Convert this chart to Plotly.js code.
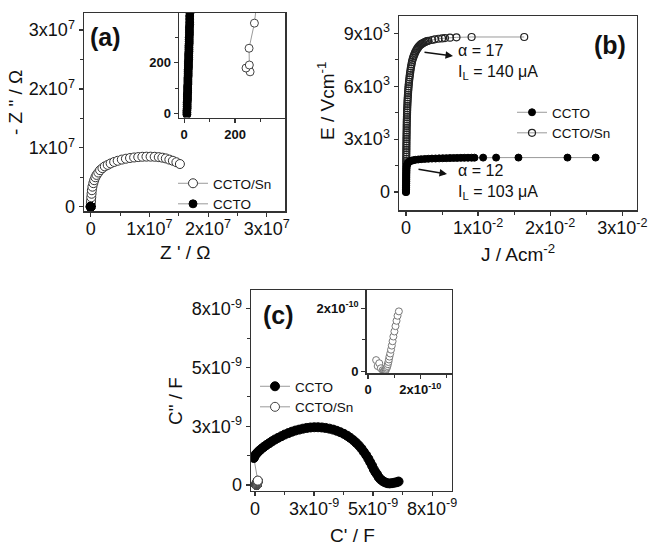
<!DOCTYPE html>
<html>
<head>
<meta charset="utf-8">
<script src="https://cdn.plot.ly/plotly-3.0.1.min.js"></script>
<style>html,body{margin:0;padding:0;background:#fff;}#chart{width:649px;height:545px;}</style>
</head>
<body>
<div id="chart"></div>
<script>
// ---------------- Panel (a): impedance Nyquist plot (Ohm) ----------------
const aCctoZre = [11,11,11,12,12,12,12,13,13,13,13,14,14,14,14,15,15,15,15,16,16,16,16,17,17,17,17,18,18,18,18,19,19,19,19,20,20,20,20,21,21,21,21,22,22,22,22,23,23];
const aCctoZim = [-4,4,12,20,28,36,44,52,60,68,76,84,92,100,108,116,124,132,140,148,156,164,172,180,188,196,204,212,220,228,236,244,252,260,268,276,284,292,300,310,320,330,340,350,360,372,384,396,410];
const aSnZre = [259,243,256,255,276,3e4,6e4,1e5,1.5e5,2e5,3e5,4.5e5,6e5,8e5,1e6,1.3e6,1.6e6,2e6,2.4e6,2.9e6,3.4e6,4e6,4.6e6,5.3e6,6e6,6.7e6,7.4e6,8.1e6,8.8e6,9.5e6,1.02e7,1.09e7,1.16e7,1.22e7,1.28e7,1.34e7,1.40e7,1.46e7,1.52e7];
const aSnZim = [164,179,191,257,356,5e5,1e6,1.6e6,2.2e6,2.8e6,3.4e6,4e6,4.5e6,5e6,5.4e6,5.8e6,6.2e6,6.55e6,6.85e6,7.1e6,7.35e6,7.6e6,7.8e6,8e6,8.15e6,8.27e6,8.36e6,8.43e6,8.48e6,8.5e6,8.5e6,8.48e6,8.42e6,8.33e6,8.2e6,8.0e6,7.8e6,7.55e6,7.25e6];
const aTicks = [0,1e7,2e7,3e7];
const aTickText = ['0','1x10<sup>7</sup>','2x10<sup>7</sup>','3x10<sup>7</sup>'];
const aInsetTicks = [0,200];
const aInsetTickText = ['0','200'];

// ---------------- Panel (b): E–J characteristics ----------------
const bCctoJ = [0,0.00001,0.00001,0.00002,0.00002,0.00003,0.00003,0.00004,0.00004,0.00005,0.00006,0.00007,0.00009,0.00012,0.00018,0.00028,0.0004,0.00055,0.00075,0.001,0.0013,0.0017,0.0021,0.0026,0.0031,0.0036,0.0041,0.0046,0.0051,0.0056,0.0061,0.0066,0.0071,0.0076,0.0081,0.0086,0.0091,0.0095,0.0107,0.0125,0.0156,0.0224,0.0263];
const bCctoE = [0,120,240,360,480,600,720,840,960,1080,1200,1320,1430,1520,1590,1650,1700,1740,1775,1800,1825,1845,1860,1875,1885,1895,1900,1908,1915,1920,1925,1930,1933,1936,1939,1942,1945,1948,1950,1950,1952,1952,1952];
const bSnJ = [0,0.000002,0.000005,0.000007,0.00001,0.000012,0.000015,0.000017,0.00002,0.000022,0.000025,0.000027,0.00003,0.000032,0.000035,0.000037,0.00004,0.000044,0.000047,0.000051,0.000055,0.000058,0.000062,0.000066,0.00007,0.000075,0.00008,0.000085,0.00009,0.000095,0.0001,0.000105,0.00011,0.00012,0.00013,0.00014,0.00015,0.00016,0.00017,0.000185,0.0002,0.000215,0.00023,0.00025,0.00027,0.00029,0.00031,0.000335,0.00036,0.00039,0.00042,0.000455,0.00049,0.00053,0.00057,0.000615,0.00066,0.00071,0.00077,0.00083,0.0009,0.00098,0.00107,0.00116,0.00126,0.00136,0.00146,0.00157,0.00168,0.0018,0.00193,0.00207,0.00222,0.00238,0.00255,0.00272,0.0029,0.0031,0.0036,0.004,0.0045,0.005,0.0054,0.0061,0.007,0.0091,0.0164];
const bSnE = [0,125,250,375,500,625,750,875,1000,1125,1250,1375,1500,1625,1750,1875,2000,2125,2250,2375,2500,2625,2750,2875,3000,3125,3250,3375,3500,3625,3750,3875,4000,4125,4250,4375,4500,4625,4750,4875,5000,5125,5250,5375,5500,5625,5750,5875,6000,6125,6250,6375,6500,6625,6750,6875,7000,7125,7250,7375,7500,7600,7700,7800,7900,7980,8060,8130,8200,8260,8320,8370,8410,8450,8490,8520,8550,8570,8620,8660,8690,8710,8730,8750,8770,8790,8790];
const bXTicks = [0,0.01,0.02,0.03];
const bXTickText = ['0','1x10<sup>-2</sup>','2x10<sup>-2</sup>','3x10<sup>-2</sup>'];
const bYTicks = [0,3000,6000,9000];
const bYTickText = ['0','3x10<sup>3</sup>','6x10<sup>3</sup>','9x10<sup>3</sup>'];

// ---------------- Panel (c): complex capacitance (F) ----------------
const cCctoRe = [0.12e-9,-0.05e-9,-0.02e-9,0.03e-9,0.10e-9,0.18e-9,0.27e-9,0.37e-9,0.48e-9,0.60e-9,0.72e-9,0.85e-9,0.98e-9,1.12e-9,1.26e-9,1.41e-9,1.56e-9,1.71e-9,1.87e-9,2.03e-9,2.19e-9,2.35e-9,2.51e-9,2.67e-9,2.83e-9,2.99e-9,3.15e-9,3.31e-9,3.46e-9,3.61e-9,3.76e-9,3.90e-9,4.03e-9,4.16e-9,4.28e-9,4.40e-9,4.51e-9,4.61e-9,4.71e-9,4.80e-9,4.88e-9,4.96e-9,5.03e-9,5.10e-9,5.17e-9,5.24e-9,5.32e-9,5.41e-9,5.50e-9,5.60e-9,5.70e-9,5.80e-9,5.90e-9,6.00e-9,6.08e-9];
const cCctoIm = [0.18e-9,1.15e-9,1.22e-9,1.30e-9,1.38e-9,1.46e-9,1.54e-9,1.62e-9,1.70e-9,1.78e-9,1.86e-9,1.94e-9,2.01e-9,2.08e-9,2.15e-9,2.21e-9,2.27e-9,2.32e-9,2.36e-9,2.40e-9,2.43e-9,2.45e-9,2.46e-9,2.46e-9,2.45e-9,2.43e-9,2.40e-9,2.36e-9,2.31e-9,2.25e-9,2.18e-9,2.10e-9,2.01e-9,1.91e-9,1.80e-9,1.68e-9,1.55e-9,1.41e-9,1.27e-9,1.12e-9,0.97e-9,0.82e-9,0.67e-9,0.55e-9,0.45e-9,0.33e-9,0.24e-9,0.17e-9,0.12e-9,0.08e-9,0.07e-9,0.08e-9,0.10e-9,0.12e-9,0.15e-9];
const cSnRe = [0.31e-10,0.37e-10,0.43e-10,0.49e-10,0.56e-10,0.60e-10,0.63e-10,0.66e-10,0.68e-10,0.70e-10,0.72e-10,0.74e-10,0.76e-10,0.78e-10,0.80e-10,0.82e-10,0.85e-10,0.88e-10,0.91e-10,0.94e-10,0.97e-10,1.01e-10,1.05e-10,1.09e-10,1.13e-10,1.18e-10];
const cSnIm = [0.35e-10,0.16e-10,0.25e-10,0.09e-10,0.03e-10,0.00,0.01e-10,0.02e-10,0.04e-10,0.07e-10,0.11e-10,0.16e-10,0.22e-10,0.29e-10,0.37e-10,0.46e-10,0.56e-10,0.68e-10,0.81e-10,0.95e-10,1.10e-10,1.26e-10,1.43e-10,1.60e-10,1.76e-10,1.90e-10];
const cTicks = [0,2.5e-9,5e-9,7.5e-9];
const cTickText = ['0','3x10<sup>-9</sup>','5x10<sup>-9</sup>','8x10<sup>-9</sup>'];
const cInsetTicks = [0,2e-10];
const cInsetTickText = ['0','2x10<sup>-10</sup>'];

// ---------------- layout helpers ----------------
const W = 649, H = 545;
const FONT = 'Liberation Sans, Arial, Helvetica, sans-serif';
const px = v => v / W;
const py = v => 1 - v / H;
const dx = (a, b) => [px(a), px(b)];
const dy = (top, bottom) => [py(bottom), py(top)];

function ax(o) {
  return Object.assign({
    showline: true, mirror: true, linecolor: '#333', linewidth: 1.5,
    ticks: 'outside', ticklen: 4, tickwidth: 1.2, tickcolor: '#333',
    showgrid: false, zeroline: false, tickmode: 'array',
    tickfont: {family: FONT, size: 18, color: '#111'},
    fixedrange: true
  }, o);
}
function minor(d) { return {tickmode: 'linear', tick0: 0, dtick: d, ticks: 'outside', ticklen: 3, tickwidth: 1, tickcolor: '#333', showgrid: false}; }
const insetFont = {family: FONT, size: 13, color: '#111', weight: 'bold'};

const openMk = (sz, edge) => ({symbol: 'circle', size: sz, color: '#fff', line: {color: edge, width: 1}});
const fillMk = sz => ({symbol: 'circle', size: sz, color: '#000', line: {color: '#000', width: 1}});
const grayLine = {color: '#9a9a9a', width: 1};

const data = [
  // (a) main
  {x: aSnZre, y: aSnZim, xaxis: 'x', yaxis: 'y', mode: 'lines+markers', name: 'CCTO/Sn', legend: 'legend', legendrank: 1,
   line: grayLine, marker: openMk(9, '#333')},
  {x: aCctoZre, y: aCctoZim, xaxis: 'x', yaxis: 'y', mode: 'lines+markers', name: 'CCTO', legend: 'legend', legendrank: 2,
   line: grayLine, marker: fillMk(8)},
  // (a) inset
  {x: aSnZre, y: aSnZim, xaxis: 'x2', yaxis: 'y2', mode: 'lines+markers', showlegend: false,
   line: grayLine, marker: openMk(8, '#444')},
  {x: aCctoZre, y: aCctoZim, xaxis: 'x2', yaxis: 'y2', mode: 'lines+markers', showlegend: false,
   line: grayLine, marker: fillMk(8)},
  // (b)
  {x: bSnJ, y: bSnE, xaxis: 'x3', yaxis: 'y3', mode: 'lines+markers', name: 'CCTO/Sn', legend: 'legend2', legendrank: 2,
   line: grayLine, marker: {symbol: 'circle-open', size: 7, color: '#222', line: {width: 1.2}}},
  {x: bCctoJ, y: bCctoE, xaxis: 'x3', yaxis: 'y3', mode: 'lines+markers', name: 'CCTO', legend: 'legend2', legendrank: 1,
   line: grayLine, marker: fillMk(7)},
  // (c) main
  {x: cCctoRe, y: cCctoIm, xaxis: 'x4', yaxis: 'y4', mode: 'lines+markers', name: 'CCTO', legend: 'legend3', legendrank: 1,
   line: grayLine, marker: fillMk(9)},
  {x: cSnRe, y: cSnIm, xaxis: 'x4', yaxis: 'y4', mode: 'lines+markers', name: 'CCTO/Sn', legend: 'legend3', legendrank: 2,
   line: grayLine, marker: openMk(9, '#444')},
  // (c) inset
  {x: cSnRe, y: cSnIm, xaxis: 'x5', yaxis: 'y5', mode: 'lines+markers', showlegend: false,
   line: grayLine, marker: openMk(7, '#777')}
];

const legendBase = {bgcolor: 'rgba(0,0,0,0)', borderwidth: 0, font: {family: FONT, size: 13.5, color: '#111'},
  xanchor: 'left', yanchor: 'top', itemwidth: 30, traceorder: 'normal', tracegroupgap: 0};

const ann = (text, x, y, size, extra) => Object.assign({
  text: text, x: px(x), y: py(y), xref: 'paper', yref: 'paper', xanchor: 'center', yanchor: 'middle',
  showarrow: false, font: {family: FONT, size: size, color: '#111'}
}, extra || {});
const panelFont = {family: FONT, size: 25, weight: 'bold', color: '#111'};

const layout = {
  width: W, height: H, margin: {l: 0, r: 0, t: 0, b: 0},
  paper_bgcolor: '#fff', plot_bgcolor: 'rgba(0,0,0,0)', showlegend: true,
  font: {family: FONT, color: '#111'},
  xaxis: ax({domain: dx(84, 285), range: [-0.114e7, 3.31e7], tickvals: aTicks, ticktext: aTickText, minor: minor(0.5e7), anchor: 'y', ticklabelstandoff: -3}),
  yaxis: ax({domain: dy(13, 211), range: [-0.073e7, 3.29e7], tickvals: aTicks, ticktext: aTickText, minor: minor(0.5e7), anchor: 'x'}),
  xaxis2: ax({domain: dx(179, 285), range: [-20, 396], tickvals: aInsetTicks, ticktext: aInsetTickText, minor: minor(100), anchor: 'y2', tickfont: insetFont}),
  yaxis2: ax({domain: dy(13, 117.5), range: [-16, 396], tickvals: aInsetTicks, ticktext: aInsetTickText, minor: minor(100), anchor: 'x2', tickfont: insetFont}),
  xaxis3: ax({domain: dx(399, 636.7), range: [-0.00097, 0.032], tickvals: bXTicks, ticktext: bXTickText, minor: minor(0.005), anchor: 'y3', ticklabelstandoff: -3}),
  yaxis3: ax({domain: dy(16, 210), range: [-1020, 9980], tickvals: bYTicks, ticktext: bYTickText, minor: minor(1500), anchor: 'x3'}),
  xaxis4: ax({domain: dx(251, 451.7), range: [-0.17e-9, 8.33e-9], tickvals: cTicks, ticktext: cTickText, minor: minor(1.25e-9), anchor: 'y4', ticklabelstandoff: -3}),
  yaxis4: ax({domain: dy(290, 490.7), range: [-0.24e-9, 8.3e-9], tickvals: cTicks, ticktext: cTickText, minor: minor(1.25e-9), anchor: 'x4'}),
  xaxis5: ax({domain: dx(366.7, 451.7), range: [-0.05e-10, 3.2e-10], tickvals: cInsetTicks, ticktext: cInsetTickText, minor: minor(1e-10), anchor: 'y5', tickfont: insetFont}),
  yaxis5: ax({domain: dy(290, 373.3), range: [-0.07e-10, 2.58e-10], tickvals: cInsetTicks, ticktext: cInsetTickText, minor: minor(1e-10), anchor: 'x5', tickfont: insetFont}),
  legend: Object.assign({}, legendBase, {x: px(173), y: py(168)}),
  legend2: Object.assign({}, legendBase, {x: px(512), y: py(97)}),
  legend3: Object.assign({}, legendBase, {x: px(255), y: py(371)}),
  annotations: [
    ann('(a)', 106, 37, 25, {font: panelFont}),
    ann('(b)', 610, 45, 25, {font: panelFont}),
    ann('(c)', 278, 315, 25, {font: panelFont}),
    ann('- Z " / Ω', 15, 103, 19, {textangle: -90}),
    ann("Z ' / Ω", 185, 253, 19),
    ann('E / Vcm<sup>-1</sup>', 326, 101, 19, {textangle: -90}),
    ann('J / Acm<sup>-2</sup>', 518, 253, 19),
    ann('C" / F', 175, 401, 19, {textangle: -90}),
    ann("C' / F", 352, 535, 19),
    ann('α = 17<br>I<sub>L</sub> = 140 μA', 456, 62, 16, {xanchor: 'left', align: 'left'}),
    ann('α = 12<br>I<sub>L</sub> = 103 μA', 456, 182, 16, {xanchor: 'left', align: 'left'}),
    {text: '', x: px(453), y: py(56), xref: 'paper', yref: 'paper', showarrow: true, ax: -30, ay: -4, arrowhead: 2, arrowsize: 1, arrowwidth: 1.5, arrowcolor: '#111', standoff: 0, startstandoff: 0},
    {text: '', x: px(447), y: py(174), xref: 'paper', yref: 'paper', showarrow: true, ax: -30, ay: -5, arrowhead: 2, arrowsize: 1, arrowwidth: 1.5, arrowcolor: '#111', standoff: 0, startstandoff: 0}
  ]
};

Plotly.newPlot('chart', data, layout, {displayModeBar: false, staticPlot: true});
</script>
</body>
</html>
